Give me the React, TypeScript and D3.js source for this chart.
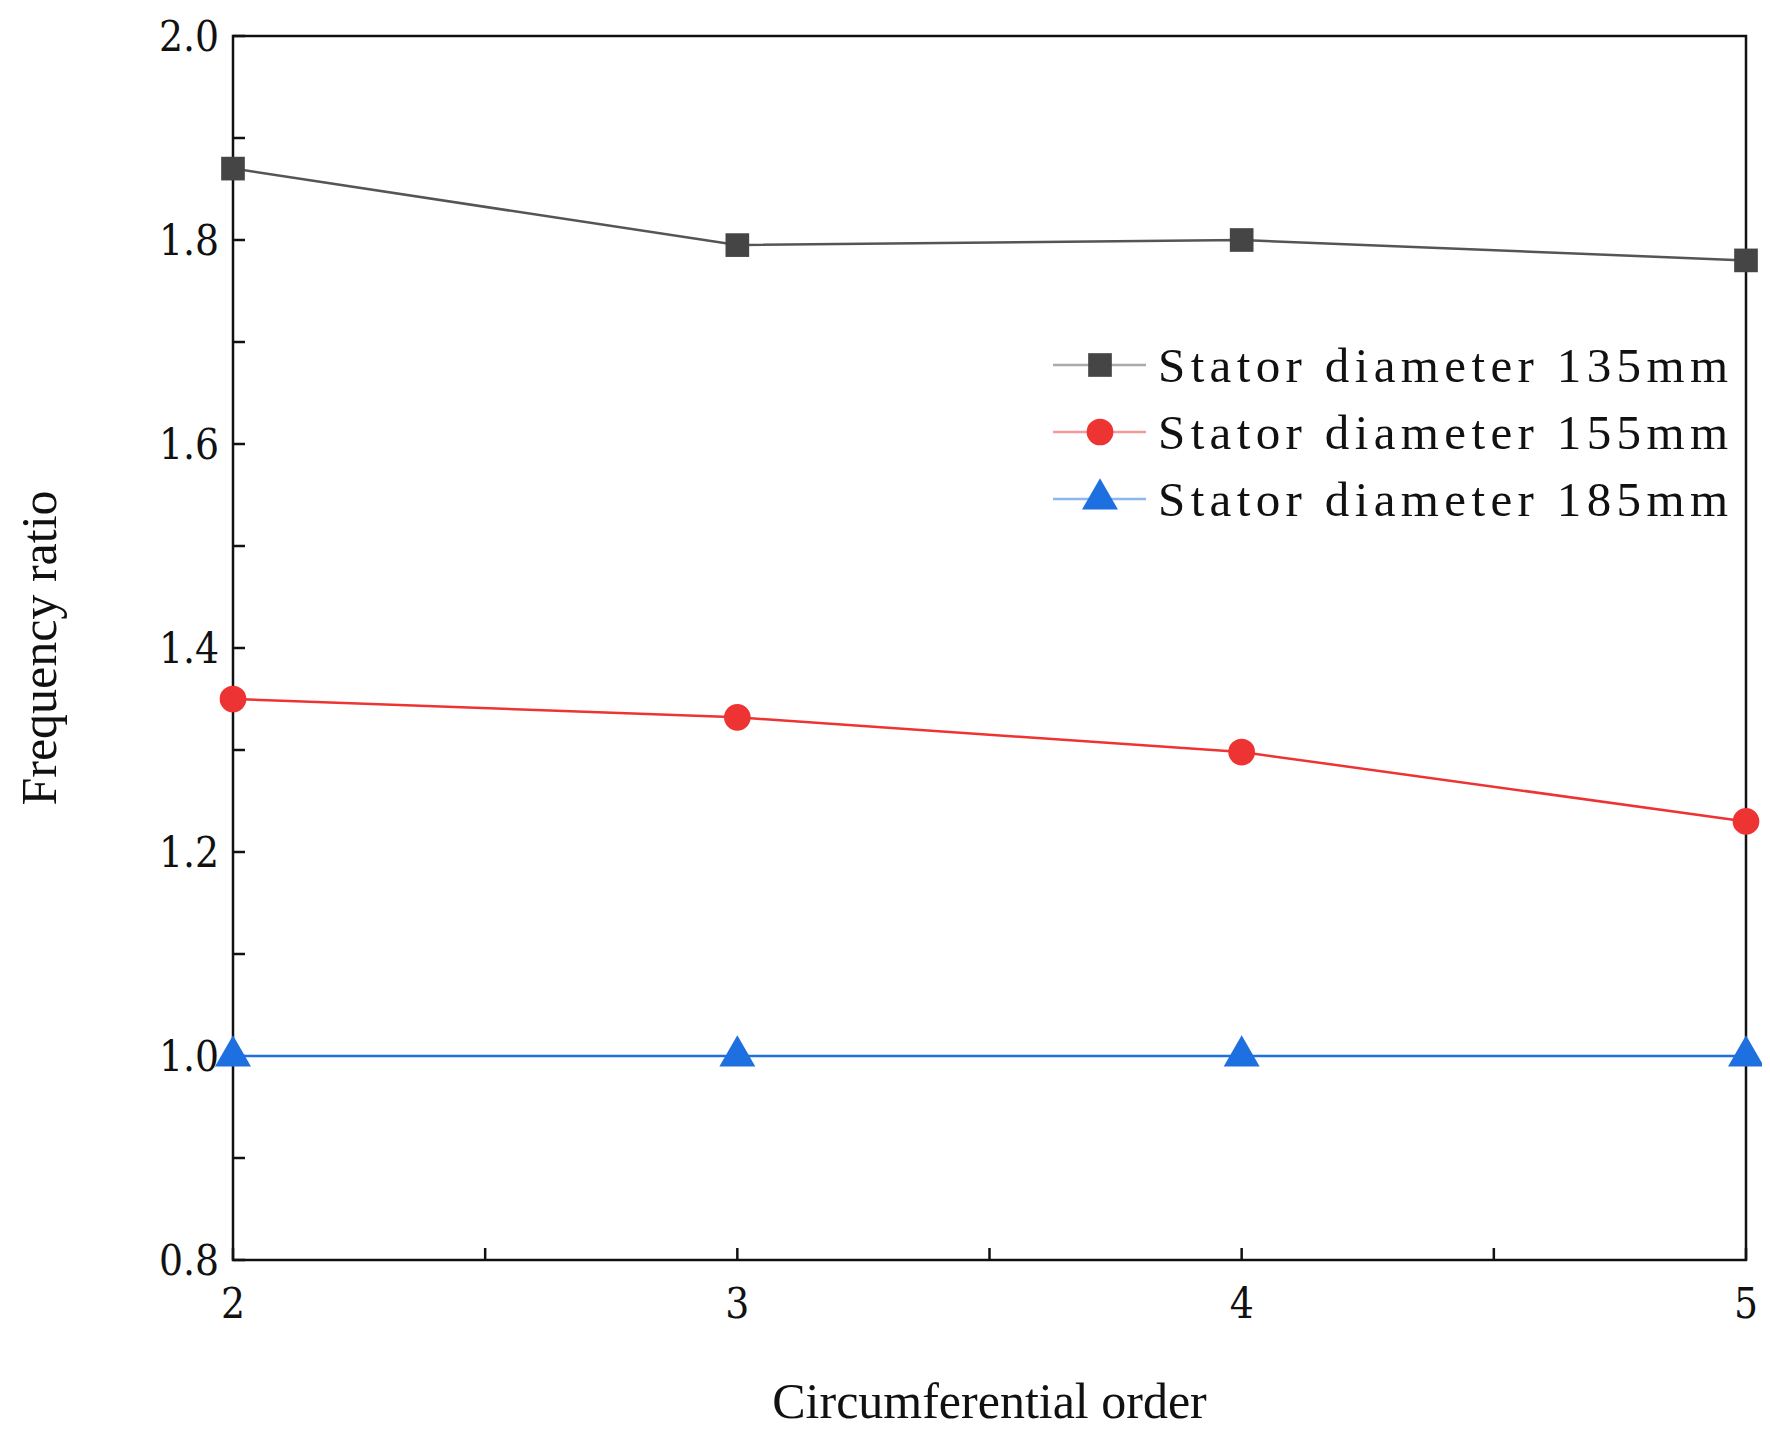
import * as d3 from 'd3';

const orders = [2, 3, 4, 5];
const yTicks = [0.8, 1.0, 1.2, 1.4, 1.6, 1.8, 2.0];
const series = [
  { name: 'Stator diameter 135mm', color: '#454545', line: '#555555', shape: 'square', values: [1.87, 1.795, 1.8, 1.78] },
  { name: 'Stator diameter 155mm', color: '#ee3333', line: '#ee3333', shape: 'circle', values: [1.35, 1.332, 1.298, 1.23] },
  { name: 'Stator diameter 185mm', color: '#1e6fe0', line: '#1e6fe0', shape: 'triangle', values: [1.0, 1.0, 1.0, 1.0] },
];

const W = 1770;
const H = 1440;
const m = { left: 233, right: 1746, top: 36, bottom: 1260 };

const symbolFor = (s: string) =>
  s === 'square' ? d3.symbolSquare : s === 'circle' ? d3.symbolCircle : d3.symbolTriangle;

export default function App() {
  const x = d3.scaleLinear().domain([2, 5]).range([m.left, m.right]);
  const y = d3.scaleLinear().domain([0.8, 2.0]).range([m.bottom, m.top]);
  const line = d3.line<number>().x((_, i) => x(orders[i])).y((d) => y(d));
  const tickFont = '"DejaVu Serif Condensed", "Liberation Serif", serif';

  return (
    <svg width={W} height={H} style={{ display: 'block', margin: -8 }}>
      <rect width={W} height={H} fill="#fff" />
      <rect x={m.left} y={m.top} width={m.right - m.left} height={m.bottom - m.top} fill="none" stroke="#111" strokeWidth={2.5} />
      {d3.range(0.8, 2.001, 0.1).map((v) => (
        <line key={v} x1={m.left} x2={m.left + 12} y1={y(v)} y2={y(v)} stroke="#111" strokeWidth={2.5} />
      ))}
      {d3.range(2, 5.001, 0.5).map((v) => (
        <line key={v} x1={x(v)} x2={x(v)} y1={m.bottom} y2={m.bottom - 12} stroke="#111" strokeWidth={2.5} />
      ))}
      {yTicks.map((v) => (
        <text key={v} x={m.left - 14} y={y(v)} dy="0.35em" textAnchor="end" fontSize={42} fontFamily={tickFont} fill="#111">
          {v.toFixed(1)}
        </text>
      ))}
      {orders.map((v) => (
        <text key={v} x={x(v)} y={m.bottom + 58} textAnchor="middle" fontSize={42} fontFamily={tickFont} fill="#111">
          {v}
        </text>
      ))}
      <text x={(m.left + m.right) / 2} y={1418} textAnchor="middle" fontSize={50} fontFamily="Liberation Serif, serif" fill="#111">
        Circumferential order
      </text>
      <text transform={`translate(56,${(m.top + m.bottom) / 2}) rotate(-90)`} textAnchor="middle" fontSize={50} fontFamily="Liberation Serif, serif" fill="#111">
        Frequency ratio
      </text>
      {series.map((s) => (
        <g key={s.name}>
          <path d={line(s.values) || ''} fill="none" stroke={s.line} strokeWidth={2.5} />
          {s.values.map((v, i) => (
            <path key={i} transform={`translate(${x(orders[i])},${y(v)})`} d={d3.symbol(symbolFor(s.shape), 560)() || ''} fill={s.color} />
          ))}
        </g>
      ))}
      {series.map((s, i) => {
        const ly = 365 + i * 67;
        return (
          <g key={s.name}>
            <line x1={1053} x2={1146} y1={ly} y2={ly} stroke={s.line} strokeOpacity={0.5} strokeWidth={2.5} />
            <path transform={`translate(1100,${ly})`} d={d3.symbol(symbolFor(s.shape), 560)() || ''} fill={s.color} />
            <text x={1158} y={ly} dy="0.35em" fontSize={49} textLength={570} lengthAdjust="spacing" fontFamily="Liberation Serif, serif" fill="#111">
              {s.name}
            </text>
          </g>
        );
      })}
    </svg>
  );
}
